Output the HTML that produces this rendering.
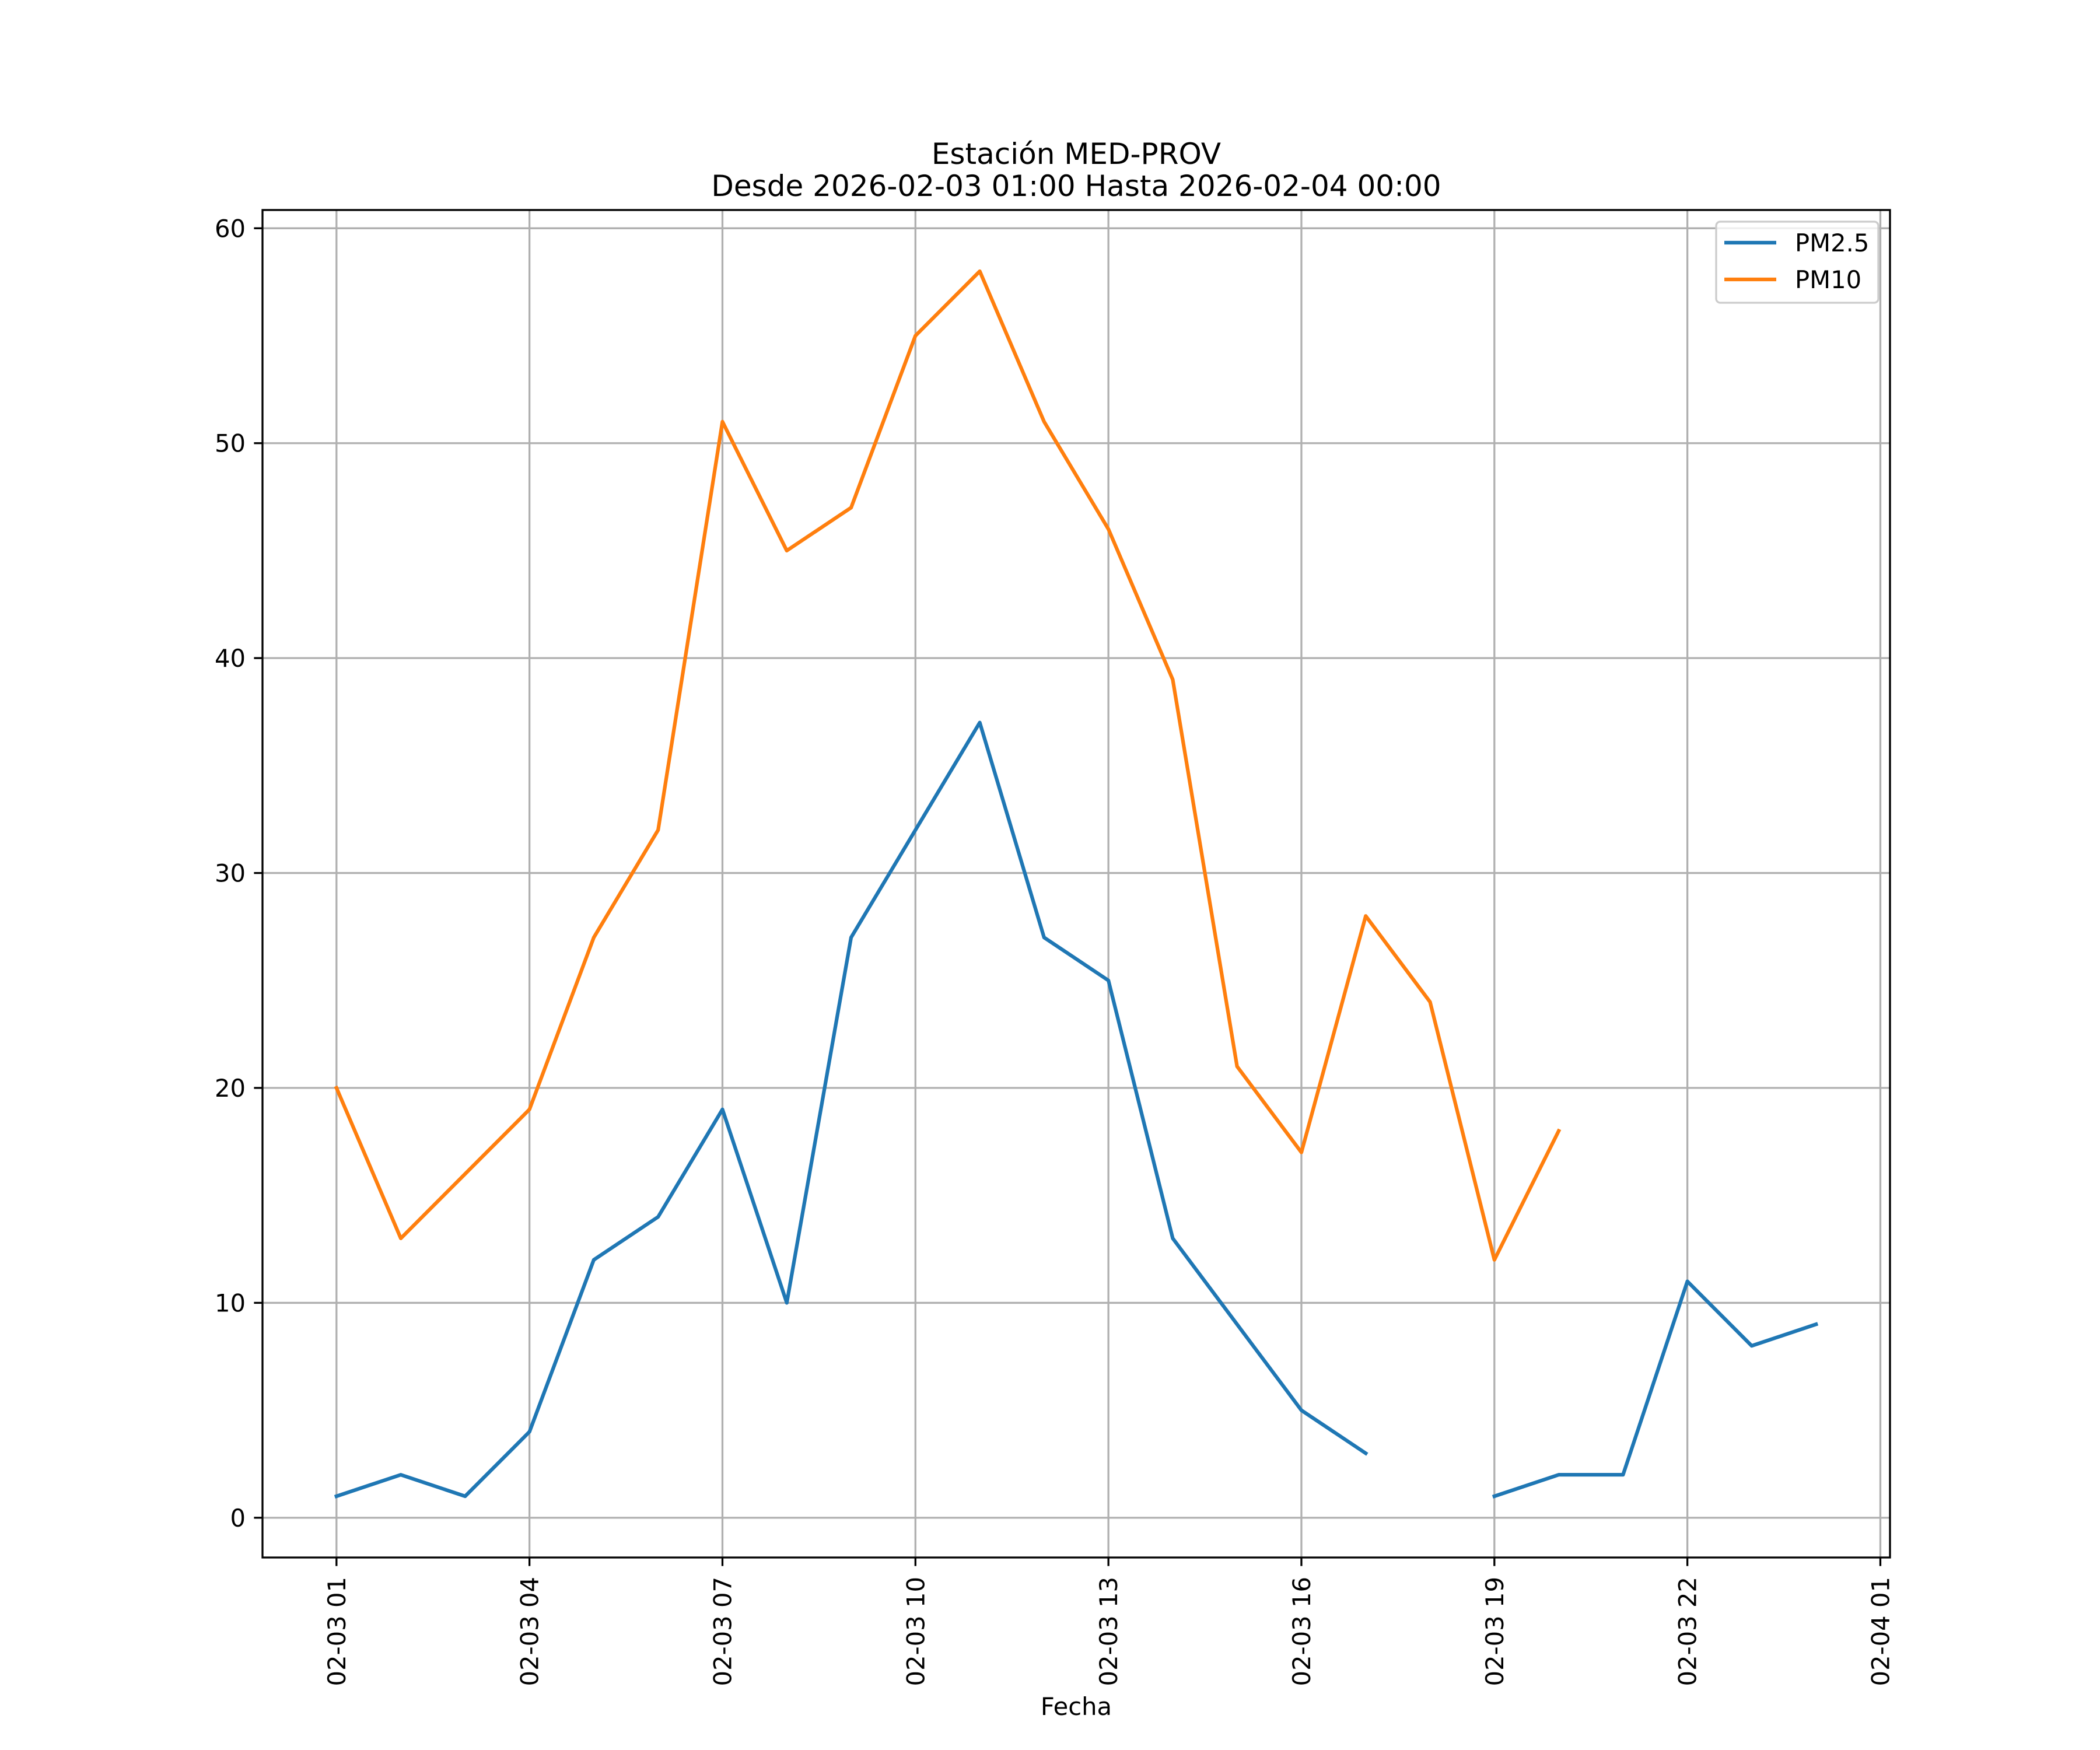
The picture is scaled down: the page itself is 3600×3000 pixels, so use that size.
<!DOCTYPE html>
<html><head><meta charset="utf-8"><style>
html,body{margin:0;padding:0;background:#fff}
svg{display:block;font-family:"DejaVu Sans","Liberation Sans",sans-serif}
</style></head><body>
<svg id="chart" width="3600" height="3000" viewBox="0 0 3600 3000" xmlns="http://www.w3.org/2000/svg">
<rect width="3600" height="3000" fill="#fff"/>
<text x="1845" y="281" font-size="50" text-anchor="middle">Estación MED-PROV</text>
<text x="1845" y="336" font-size="50" text-anchor="middle">Desde 2026-02-03 01:00 Hasta 2026-02-04 00:00</text>
<g id="grid"></g>
<g id="series"></g>
<rect x="450" y="360" width="2790" height="2310" fill="none" stroke="#000" stroke-width="3.3"/>
<g id="ticks"></g>
<text x="1845" y="2940" font-size="41.7" text-anchor="middle">Fecha</text>
<g>
<rect x="2942" y="380" width="278" height="139" rx="7" fill="#fff" fill-opacity="0.8" stroke="#ccc" stroke-width="3.3"/>
<line x1="2956" y1="416" x2="3045" y2="416" stroke="#1f77b4" stroke-width="6.25"/>
<text x="3077" y="431" font-size="41.7">PM2.5</text>
<line x1="2956" y1="479" x2="3045" y2="479" stroke="#ff7f0e" stroke-width="6.25"/>
<text x="3077" y="494" font-size="41.7">PM10</text>
</g>
</svg>
<script>
const hours = [1,2,3,4,5,6,7,8,9,10,11,12,13,14,15,16,17,18,19,20,21,22,23,24];
const pm25 = [1,2,1,4,12,14,19,10,27,32,37,27,25,13,9,5,3,null,1,2,2,11,8,9];
const pm10 = [20,13,16,19,27,32,51,45,47,55,58,51,46,39,21,17,28,24,12,18,null,null,null,null];
const xTickHours = [1,4,7,10,13,16,19,22,25];
const xTickLabels = ["02-03 01","02-03 04","02-03 07","02-03 10","02-03 13","02-03 16","02-03 19","02-03 22","02-04 01"];
const yTicks = [0,10,20,30,40,50,60];

const NS="http://www.w3.org/2000/svg";
const L=450,R=3240,T=360,B=2670;
const xmin=1-1.15,xmax=24+1.15,ymin=-1.85,ymax=60.85;
function xs(h){return L+(h-xmin)/(xmax-xmin)*(R-L);}
function ys(v){return B-(v-ymin)/(ymax-ymin)*(B-T);}
function mk(tag,attrs,parent){const e=document.createElementNS(NS,tag);for(const k in attrs)e.setAttribute(k,attrs[k]);parent.appendChild(e);return e;}
const grid=document.getElementById('grid'),ticks=document.getElementById('ticks'),series=document.getElementById('series');
xTickHours.forEach((h,i)=>{
  const x=xs(h);
  const g=mk('line',{x1:x,x2:x,y1:T,y2:B,stroke:'#b0b0b0','stroke-width':3.3},grid);
  
  
  const t=mk('line',{x1:x,x2:x,y1:B,y2:B+14.6,stroke:'#000','stroke-width':3.3},ticks);
  
  
  const tx=mk('text',{x:0,y:0,'font-size':41.7,'text-anchor':'end',transform:`translate(${x+15},${B+33}) rotate(-90)`},ticks);
  tx.textContent=xTickLabels[i];
  
  
});
yTicks.forEach(v=>{
  const y=ys(v);
  const g=mk('line',{x1:L,x2:R,y1:y,y2:y,stroke:'#b0b0b0','stroke-width':3.3},grid);
  
  
  const t=mk('line',{x1:L-14.6,x2:L,y1:y,y2:y,stroke:'#000','stroke-width':3.3},ticks);
  
  
  const tx=mk('text',{x:L-29,y:y+15,'font-size':41.7,'text-anchor':'end'},ticks);
  tx.textContent=v;
  
  
});
function draw(vals,color,name){
  let seg=[];const segs=[];
  vals.forEach((v,i)=>{if(v===null){if(seg.length)segs.push(seg);seg=[];}else seg.push([xs(hours[i]),ys(v)]);});
  if(seg.length)segs.push(seg);
  segs.forEach(s=>{
    const p=mk('polyline',{points:s.map(q=>q.join(',')).join(' '),fill:'none',stroke:color,'stroke-width':6.25,'stroke-linejoin':'round','stroke-linecap':'square'},series);
    
    
  });
}
draw(pm25,'#1f77b4','pm25-line');
draw(pm10,'#ff7f0e','pm10-line');
</script>
</body></html>
